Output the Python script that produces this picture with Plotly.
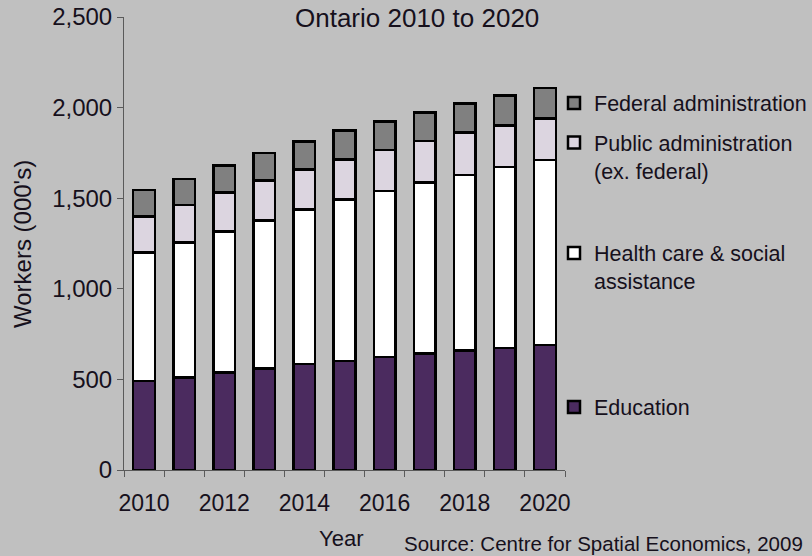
import plotly.graph_objects as go

years = [2010, 2011, 2012, 2013, 2014, 2015, 2016, 2017, 2018, 2019, 2020]
education = [490, 511, 537, 561, 585, 602, 624, 644, 659, 672, 690]
health = [709, 745, 778, 817, 854, 890, 917, 944, 969, 999, 1021]
public_admin = [199, 206, 217, 219, 220, 221, 225, 228, 234, 231, 230]
federal_admin = [147, 144, 148, 152, 155, 160, 156, 158, 160, 164, 167]

x_ticks = [2010, 2012, 2014, 2016, 2018, 2020]
y_ticks = [0, 500, 1000, 1500, 2000, 2500]

FONT = "Liberation Sans, Arial, sans-serif"
TXT = "#16101c"
W, H = 812, 556
L, R, T, B = 124, 247, 17, 86
PW, PH = W - L - R, H - T - B


def px_x(px):
    return (px - L) / PW


def px_y(py):
    return (H - B - py) / PH


series = [
    ("Education", education, "#4b2b5f", "legend4", 407),
    ("Health care & social<br>assistance", health, "#ffffff", "legend3", 267),
    ("Public administration<br>(ex. federal)", public_admin, "#dcd5e0", "legend2", 156.5),
    ("Federal administration", federal_admin, "#808080", "legend", 103),
]

fig = go.Figure()
for name, vals, color, leg, _ in series:
    fig.add_trace(go.Bar(
        x=years, y=vals, name=name, legend=leg,
        marker=dict(color=color, line=dict(color="#000000", width=2.5)),
        width=0.54,
    ))

legend_common = dict(
    xanchor="left", yanchor="middle", bgcolor="rgba(0,0,0,0)",
    font=dict(family=FONT, size=21.5, color=TXT), itemwidth=30,
    valign="top", borderwidth=0,
)
layout_legends = {}
for name, vals, color, leg, ypx in series:
    layout_legends[leg] = dict(x=px_x(554), y=px_y(ypx), **legend_common)

fig.update_layout(
    width=W, height=H,
    margin=dict(l=L, r=R, t=T, b=B, pad=0, autoexpand=False),
    paper_bgcolor="#c0c0c0", plot_bgcolor="#c0c0c0",
    barmode="stack",
    font=dict(family=FONT, size=24, color=TXT),
    showlegend=True,
    **layout_legends,
)

fig.update_xaxes(
    range=[2009.5, 2020.5], tickmode="array", tickvals=x_ticks,
    ticktext=[str(v) for v in x_ticks], ticks="", ticklabelstandoff=12,
    showline=True, linecolor="#5a5a5a", linewidth=1, showgrid=False, zeroline=False,
    minor=dict(tick0=2009.5, dtick=1, ticks="outside", ticklen=6, tickcolor="#5a5a5a", tickwidth=1),
    tickfont=dict(size=23, color=TXT), automargin=False,
)
fig.update_yaxes(
    range=[0, 2500], tickmode="array", tickvals=y_ticks,
    ticktext=[f"{v:,}" for v in y_ticks], ticks="outside", ticklen=6,
    tickcolor="#5a5a5a", showline=True, linecolor="#5a5a5a", linewidth=1,
    showgrid=False, zeroline=False, tickfont=dict(size=24, color=TXT),
    automargin=False,
)

fig.add_annotation(
    text="Workers (000's)", xref="paper", yref="paper",
    x=px_x(22), y=px_y(244), xanchor="center", yanchor="middle", textangle=-90,
    showarrow=False, font=dict(size=24, color=TXT),
)
fig.add_annotation(
    text="Year", xref="paper", yref="paper",
    x=px_x(341), y=px_y(538), xanchor="center", yanchor="middle",
    showarrow=False, font=dict(size=22, color=TXT),
)
fig.add_annotation(
    text="Ontario 2010 to 2020", xref="paper", yref="paper",
    x=px_x(293), y=px_y(18), xanchor="left", yanchor="middle",
    showarrow=False, font=dict(size=26, color=TXT),
)
fig.add_annotation(
    text="Source: Centre for Spatial Economics, 2009", xref="paper", yref="paper",
    x=px_x(402), y=px_y(543), xanchor="left", yanchor="middle",
    showarrow=False, font=dict(size=20.5, color=TXT),
)

fig.write_html(
    "out.html",
    config={"displayModeBar": False},
    post_script="document.body.style.margin='0';document.body.style.padding='0';"
                "document.body.style.overflow='hidden';",
)
